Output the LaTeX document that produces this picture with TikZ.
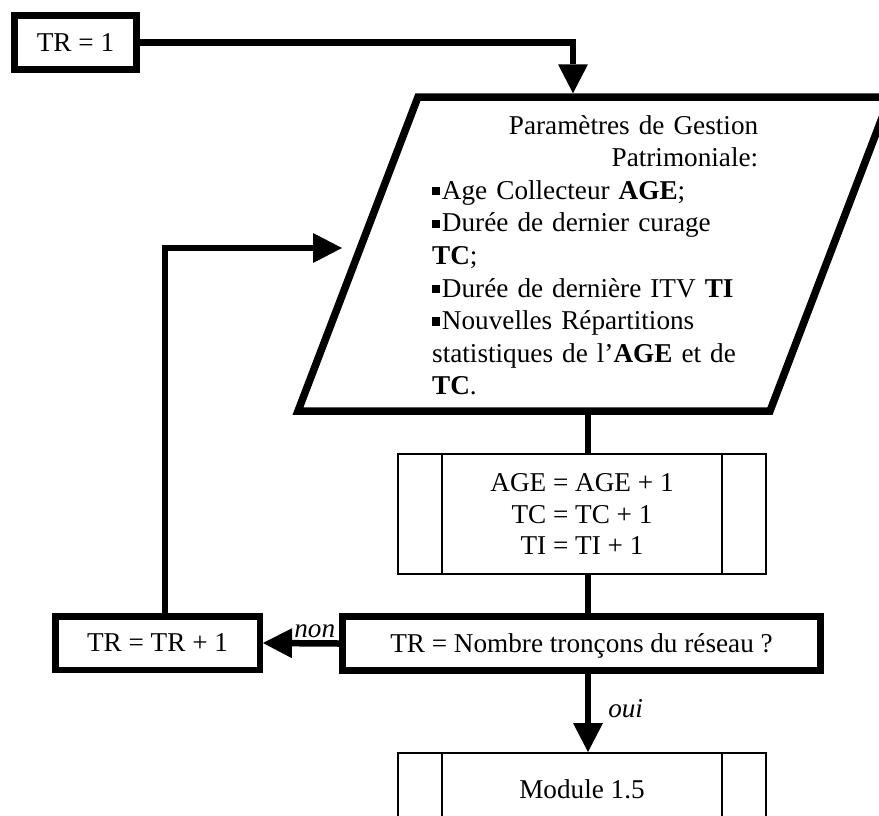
\documentclass[tikz,border=0pt]{standalone}
\usepackage{fontspec}
\setmainfont{Liberation Serif}
\usetikzlibrary{arrows.meta,calc}
% small square bullet used in the parameter list
\newcommand{\sqbullet}{\rule[0.15em]{0.3em}{0.3em}\hspace{0.06em}}
\begin{document}
\begin{tikzpicture}[x=1pt,y=-1pt,
  font=\fontsize{27.2}{32.6}\selectfont,
  thickbox/.style={draw, line width=7pt, inner sep=0pt, minimum height=54pt},
  procbox/.style={draw, line width=2pt, inner sep=0pt, minimum width=368pt, align=center},
  conn/.style={line width=6.5pt},
  arr/.style={-{Triangle[length=29pt,width=30pt,line width=0pt]}},
  lbl/.style={font=\fontsize{27.2}{32.6}\selectfont\itshape, inner sep=0pt}]

\useasboundingbox (0,0) rectangle (879,815);
\fill[white] (0,0) rectangle (879,815);
\clip (0,0) rectangle (879,815);

% vertical axis shared by the main chain of connectors
\coordinate (axis) at (588,0);

% start
\node[thickbox, minimum width=122pt] (tr1) at (75.5,42.5) {TR = 1};

% input block (parallelogram)
\draw[line width=7.5pt, line join=miter] (418,97) -- (890,97) -- (770,411) -- (298,411) -- cycle;
\coordinate (pin) at (573,93.25);
\coordinate (pbot) at (588,411);
\node[anchor=base west, text width=326pt, align=left, inner sep=0pt] (param) at (432,134) {%
\hspace*{\fill}\mbox{Paramètres de Gestion}\\
\hspace*{\fill}\mbox{Patrimoniale:}\\
\mbox{\sqbullet Age Collecteur \textbf{AGE};}\\
\mbox{\sqbullet Durée de dernier curage}\\
\mbox{\textbf{TC};}\\
\mbox{\sqbullet Durée de dernière ITV \textbf{TI}}\\
\mbox{\sqbullet Nouvelles Répartitions}\\
\mbox{statistiques de l’\textbf{AGE} et de}\\
\mbox{\textbf{TC}.}};

% update process
\node[procbox, minimum height=120pt, font=\fontsize{27.2}{31.5}\selectfont] (upd) at (582,514)
  {AGE = AGE + 1\\TC = TC + 1\\TI = TI + 1};
\draw[line width=2pt] ($(upd.north west)+(45,0)$) -- ($(upd.south west)+(45,0)$);
\draw[line width=2pt] ($(upd.north east)+(-45,0)$) -- ($(upd.south east)+(-45,0)$);

% test
\node[thickbox, minimum width=478pt, text depth=0pt] (dec) at (581.5,643.5) {TR = Nombre tronçons du réseau ?};

% increment
\node[thickbox, line width=6.5pt, minimum width=204.5pt, minimum height=53.5pt] (inc) at (157.5,643) {TR = TR + 1};

% next module
\node[procbox, minimum height=72pt] (mod) at (582,789) {Module 1.5};
\draw[line width=2pt] ($(mod.north west)+(45,0)$) -- ($(mod.south west)+(45,0)$);
\draw[line width=2pt] ($(mod.north east)+(-45,0)$) -- ($(mod.south east)+(-45,0)$);

% connectors
\draw[conn, arr] (tr1.east) -| (pin);
\draw[conn] (pbot) -- (axis |- upd.north);
\draw[conn] (axis |- upd.south) -- (axis |- dec.north);
\draw[conn, arr] (dec.west) -- node[lbl, pos=0.63, anchor=base west, yshift=6pt] {non} (inc.east);
\draw[conn, arr] (axis |- dec.south) -- node[lbl, pos=0.56, anchor=base west, xshift=17pt] {oui} (axis |- mod.north);

% loop back to the input block
\coordinate (lc) at (165,248);
\coordinate (le) at (342,248);
\draw[conn, arr] (lc |- inc.north) -- (lc) -- (le);

\end{tikzpicture}
\end{document}
